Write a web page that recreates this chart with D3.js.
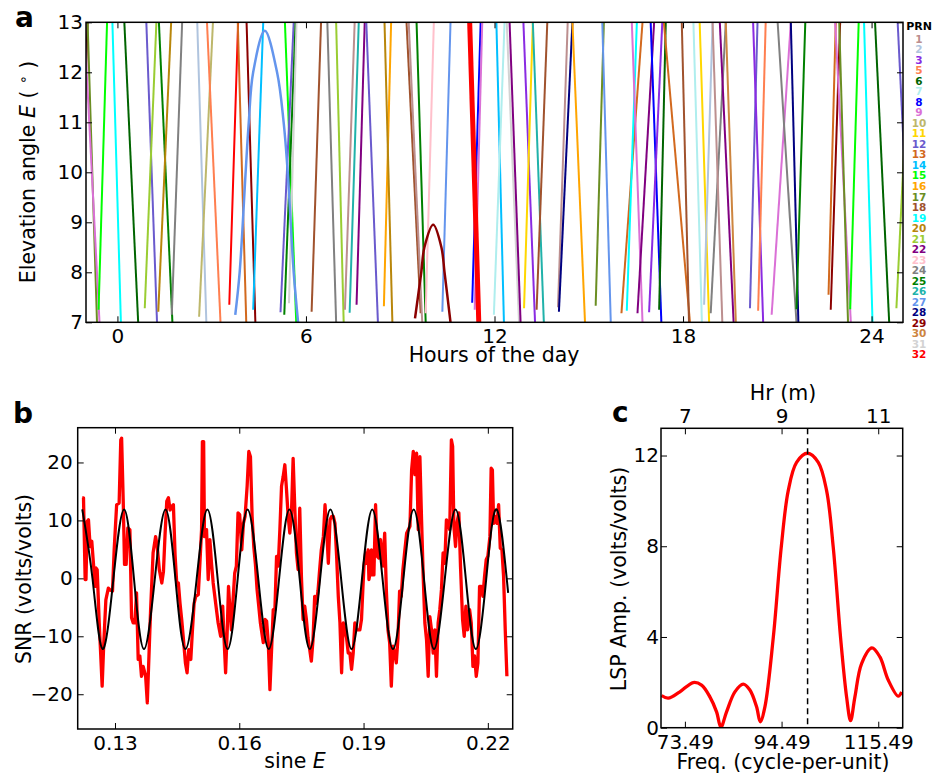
<!DOCTYPE html>
<html>
<head>
<meta charset="utf-8">
<script src="https://cdnjs.cloudflare.com/ajax/libs/d3/7.8.5/d3.min.js"></script>
<style>
  body { margin: 0; background: #fff; }
  svg { font-family: "DejaVu Sans", sans-serif; }
</style>
</head>
<body>
<script>
// ---------- data ----------
// satellite PRNs shown in the legend, and their colours
var prnList = [1, 2, 3, 5, 6, 7, 8, 9, 10, 11, 12, 13, 14, 15, 16, 17, 18, 19, 20, 21, 22, 23, 24, 25, 26, 27, 28, 29, 30, 31, 32];
var prnColors = ["#bc8f8f", "#b0c4de", "#8a2be2", "#ff7f50", "#006400", "#afeeee", "#0000ff", "#da70d6",
  "#bdb76b", "#ffd700", "#6a5acd", "#d2691e", "#00bfff", "#00ff00", "#ffa500", "#6b8e23", "#a0522d",
  "#00ffff", "#b8860b", "#9acd32", "#800080", "#ffc0cb", "#808080", "#008000", "#20b2aa", "#6495ed",
  "#000080", "#8b0000", "#cd853f", "#d3d3d3", "#ff0000"];

// rising / setting passes between 7 and 13 deg: [prn, hour0, elev0, hour1, elev1]
var tracks = [
  [29, -1.25, 7, -0.95, 13], [17, -0.95, 13, -0.65, 7], [9, -1.06, 13, -0.57, 7],
  [15, -0.60, 7.25, -0.33, 13], [19, -0.16, 13, 0.11, 7], [6, 0.22, 13, 0.66, 7],
  [12, 0.92, 13, 1.26, 7], [21, 0.87, 7.28, 1.24, 13], [25, 1.32, 13, 1.75, 7],
  [20, 1.30, 7.21, 1.71, 13], [24, 1.73, 7.15, 2.06, 13], [2, 2.54, 13, 2.83, 7],
  [10, 2.60, 7.11, 3.04, 13], [5, 2.85, 13, 3.28, 7], [32, 3.56, 7.35, 3.84, 13],
  [13, 3.83, 13, 4.10, 7], [29, 4.11, 13, 4.39, 7], [14, 4.32, 7.25, 4.64, 13],
  [15, 5.33, 13, 5.69, 7], [12, 5.19, 7.2, 5.61, 13], [25, 5.31, 7.15, 5.67, 13],
  [31, 5.46, 7.38, 5.70, 13], [18, 6.18, 7.21, 6.48, 13], [24, 6.68, 13, 6.96, 7],
  [21, 6.96, 13, 7.20, 7], [1, 7.24, 7.25, 7.55, 13], [26, 7.39, 7.19, 7.68, 13],
  [22, 7.61, 7.35, 7.87, 13], [12, 7.92, 13, 8.29, 7], [16, 8.48, 7.32, 8.71, 13],
  [20, 8.50, 13, 8.75, 7], [18, 9.20, 13, 9.65, 7.18], [1, 9.27, 13, 9.70, 7],
  [25, 9.52, 13, 9.81, 7], [23, 9.81, 7.18, 10.07, 13], [27, 10.34, 7.21, 10.60, 13],
  [8, 11.29, 7.39, 11.56, 13], [9, 11.37, 7.25, 11.61, 13], [14, 12.06, 13, 12.30, 7],
  [7, 11.98, 7.15, 12.32, 13], [31, 12.39, 13, 12.78, 7], [22, 12.48, 13, 12.83, 7],
  [3, 12.92, 13, 13.29, 7], [11, 12.94, 7.28, 13.22, 13], [26, 13.22, 13, 13.57, 7],
  [18, 13.34, 7.25, 13.68, 13], [1, 14.02, 7.3, 14.33, 13], [28, 14.05, 7.21, 14.48, 13],
  [16, 14.48, 13, 14.88, 7], [17, 15.22, 7.33, 15.48, 13], [27, 15.43, 13, 15.70, 7],
  [13, 16.04, 7.18, 16.71, 13], [19, 16.21, 7.23, 16.53, 13], [9, 16.37, 13, 16.71, 7],
  [22, 16.55, 7.18, 17.08, 13], [8, 16.97, 13, 17.31, 7], [3, 16.92, 7.2, 17.34, 13],
  [6, 17.24, 7.25, 17.45, 13], [13, 17.39, 13, 18.22, 7], [18, 17.96, 13, 18.19, 7],
  [7, 18.33, 13, 18.60, 7], [11, 18.53, 13, 18.83, 7], [2, 18.67, 7.35, 18.94, 13],
  [24, 18.88, 7.18, 19.36, 13], [1, 18.94, 13, 19.25, 7], [22, 19.17, 13, 19.61, 7],
  [30, 19.36, 13, 19.68, 7], [12, 20.13, 7.28, 20.37, 13], [3, 20.23, 13, 20.55, 7],
  [5, 20.39, 7.23, 20.63, 13], [9, 20.82, 7.15, 21.43, 13], [24, 21.01, 13, 21.61, 7],
  [28, 21.43, 13, 21.67, 7], [25, 21.61, 7.26, 21.89, 13], [13, 22.63, 7.55, 22.86, 13],
  [29, 22.70, 7.25, 23.00, 13], [9, 22.84, 13, 23.34, 7], [17, 22.97, 13, 23.25, 7],
  [15, 23.32, 7.26, 23.59, 13], [19, 23.76, 13, 24.03, 7], [6, 24.11, 13, 24.56, 7],
  [21, 24.79, 7.28, 25.23, 13], [12, 24.83, 13, 25.29, 7]
];

// passes that turn over inside the window
var arc27Hours = [3.75, 3.89, 4.08, 4.18, 4.32, 4.69, 5.08, 5.29, 5.42, 5.61, 5.75];
var arc27Elev = [7.15, 8, 10, 11, 12, 12.83, 12, 11, 10, 8, 7.0];
var arc29Hours = [9.47, 9.67, 9.77, 10.05, 10.31, 10.41, 10.60];
var arc29Elev = [7.08, 8, 8.5, 8.95, 8.5, 8, 7.0];

// the highlighted pass (PRN 32) analysed in b and c
var passHours = [11.21, 11.50];
var passElev = [13, 7];

var hourTicks = [0, 6, 12, 18, 24];
var elevTicks = [7, 8, 9, 10, 11, 12, 13];

// panel b: detrended SNR vs sine E, and the fitted sinusoid
var snrPoints = [
  [0.1221, 13.9], [0.1224, 13.9], [0.1228, -0.2], [0.1230, -0.2], [0.1233, 9.8], [0.1236, 10.1],
  [0.1240, 5.5], [0.1244, 6.4], [0.1248, 2.6], [0.1252, -1.4], [0.1254, 1.8], [0.1257, 1.5],
  [0.1262, -7.7], [0.1265, -12.3], [0.1269, -18.6], [0.1273, -11.1], [0.1278, -3.7], [0.1284, -1.7],
  [0.1288, -2.0], [0.1294, -2.2], [0.1298, 4.9], [0.1304, 12.7], [0.1310, 13.0], [0.1314, 23.9],
  [0.1316, 24.2], [0.1320, 13.0], [0.1323, 2.4], [0.1327, 2.4], [0.1331, 8.7], [0.1336, 8.4],
  [0.1340, -6.8], [0.1344, -7.7], [0.1348, -7.7], [0.1352, -2.5], [0.1356, -14.0], [0.1360, -13.4],
  [0.1364, -16.9], [0.1368, -15.2], [0.1374, -16.9], [0.1378, -21.5], [0.1382, -13.4], [0.1386, -5.4],
  [0.1392, 4.4], [0.1398, 7.2], [0.1402, 5.5], [0.1407, 1.5], [0.1413, -0.8], [0.1417, 1.2],
  [0.1421, 7.8], [0.1425, 13.3], [0.1429, 13.9], [0.1433, 11.8], [0.1437, 12.4], [0.1441, 12.7],
  [0.1445, 4.1], [0.1449, -0.8], [0.1453, -0.8], [0.1457, -4.3], [0.1461, -7.1], [0.1465, -10.3],
  [0.1470, -14.6], [0.1474, -16.3], [0.1478, -12.3], [0.1483, -14.0], [0.1487, -8.9], [0.1491, -4.3],
  [0.1495, -3.1], [0.1501, -2.8], [0.1505, 2.6], [0.1509, 8.4], [0.1511, 23.6], [0.1514, 23.6],
  [0.1516, 7.2], [0.1521, 8.4], [0.1525, -0.2], [0.1529, 6.7], [0.1533, 2.6], [0.1537, -0.8],
  [0.1543, -4.3], [0.1549, -7.7], [0.1555, -10.0], [0.1560, -4.8], [0.1563, -10.0], [0.1567, -16.3],
  [0.1571, -8.9], [0.1574, -1.4], [0.1577, -4.8], [0.1581, -8.9], [0.1585, -3.7], [0.1589, 0.9],
  [0.1593, 2.1], [0.1597, 11.3], [0.1601, 11.0], [0.1606, 4.9], [0.1610, 9.5], [0.1614, 10.7],
  [0.1619, 15.9], [0.1623, 21.9], [0.1627, 21.0], [0.1631, 10.7], [0.1635, 5.5], [0.1639, 2.4],
  [0.1643, -2.0], [0.1647, -4.8], [0.1651, -7.7], [0.1658, -11.1], [0.1662, -7.1], [0.1666, -7.4],
  [0.1670, -11.1], [0.1674, -19.2], [0.1678, -12.3], [0.1682, -5.4], [0.1686, -5.4], [0.1690, 3.8],
  [0.1694, 2.1], [0.1698, 8.4], [0.1702, 15.9], [0.1706, 17.6], [0.1710, 19.6], [0.1714, 15.3],
  [0.1718, 10.7], [0.1722, 7.8], [0.1726, 11.3], [0.1730, 20.7], [0.1734, 12.1], [0.1738, 4.4],
  [0.1742, 1.5], [0.1746, 12.1], [0.1750, 0.3], [0.1754, -7.1], [0.1758, -4.8], [0.1762, -7.1],
  [0.1766, -10.3], [0.1770, -12.3], [0.1774, -14.3], [0.1778, -10.6], [0.1782, -3.1], [0.1786, -4.3],
  [0.1790, -2.2], [0.1794, 1.5], [0.1798, 4.9], [0.1803, 7.2], [0.1807, 12.7], [0.1811, 8.4],
  [0.1815, 2.6], [0.1819, 10.1], [0.1823, 10.7], [0.1827, 10.7], [0.1831, 9.5], [0.1835, 3.8],
  [0.1839, -3.1], [0.1843, -7.7], [0.1847, -16.3], [0.1851, -7.7], [0.1855, -8.9], [0.1859, -10.3],
  [0.1863, -12.9], [0.1867, -12.9], [0.1871, -15.7], [0.1875, -12.9], [0.1879, -7.7], [0.1883, -8.9],
  [0.1887, -8.9], [0.1891, -8.9], [0.1895, -7.1], [0.1899, -0.8], [0.1901, 2.1], [0.1905, 4.4],
  [0.1907, 2.6], [0.1911, 4.9], [0.1913, -0.2], [0.1917, 1.5], [0.1919, 4.9], [0.1921, 0.6],
  [0.1925, 0.6], [0.1929, 12.7], [0.1933, 3.8], [0.1937, 3.5], [0.1941, 6.7], [0.1945, 3.5],
  [0.1947, 2.1], [0.1951, 7.8], [0.1955, -2.0], [0.1959, -8.9], [0.1963, -11.1], [0.1967, -18.6],
  [0.1971, -11.7], [0.1975, -12.9], [0.1979, -14.6], [0.1983, -10.3], [0.1987, -2.2], [0.1991, -3.1],
  [0.1995, 1.5], [0.1999, 4.4], [0.2004, 7.8], [0.2008, 8.4], [0.2012, 9.0], [0.2016, 18.7],
  [0.2020, 21.9], [0.2024, 17.9], [0.2028, 21.6], [0.2032, 8.4], [0.2036, 21.0], [0.2040, 10.1],
  [0.2044, 0.3], [0.2048, -7.7], [0.2052, -10.6], [0.2056, -16.9], [0.2060, -6.6], [0.2064, -8.9],
  [0.2068, -12.9], [0.2072, -8.9], [0.2076, -16.9], [0.2080, -7.7], [0.2084, -5.4], [0.2088, -2.0],
  [0.2092, 4.4], [0.2096, 2.6], [0.2100, 10.1], [0.2104, 9.5], [0.2108, 8.4], [0.2112, 23.9],
  [0.2115, 22.8], [0.2118, 9.0], [0.2122, 5.5], [0.2126, 9.8], [0.2130, 11.3], [0.2134, 2.1],
  [0.2139, -7.1], [0.2143, -10.0], [0.2147, -4.8], [0.2151, -8.9], [0.2156, -5.4], [0.2160, -7.7],
  [0.2164, -15.2], [0.2168, -13.4], [0.2172, -16.9], [0.2176, -14.6], [0.2180, -1.4], [0.2184, -1.4],
  [0.2188, -3.1], [0.2192, 0.3], [0.2196, 3.2], [0.2200, 3.8], [0.2205, 7.2], [0.2208, 19.0],
  [0.2211, 18.7], [0.2214, 9.5], [0.2218, 10.7], [0.2222, 9.5], [0.2226, 12.7], [0.2230, 5.2],
  [0.2234, 4.9], [0.2238, 0.3], [0.2242, -8.9], [0.2246, -16.9]
];

// fitted sinusoid: crests, troughs and crossings
var fitPoints = [
  [0.1221, 11.9], [0.1246, -0.2], [0.1270, -12.2], [0.1296, -0.2], [0.1322, 11.9], [0.1346, -0.2],
  [0.1370, -12.2], [0.1396, -0.2], [0.1422, 11.9], [0.1446, -0.2], [0.1470, -12.2], [0.1497, -0.2],
  [0.1523, 11.9], [0.1548, -0.2], [0.1572, -12.2], [0.1596, -0.2], [0.1620, 11.9], [0.1646, -0.2],
  [0.1671, -12.2], [0.1696, -0.2], [0.1721, 11.9], [0.1746, -0.2], [0.1770, -12.2], [0.1795, -0.2],
  [0.1820, 11.9], [0.1846, -0.2], [0.1871, -12.2], [0.1896, -0.2], [0.1921, 11.9], [0.1946, -0.2],
  [0.1971, -12.2], [0.1996, -0.2], [0.2021, 11.9], [0.2046, -0.2], [0.2070, -12.2], [0.2096, -0.2],
  [0.2122, 11.9], [0.2147, -0.2], [0.2171, -12.2], [0.2196, -0.2], [0.2221, 11.9], [0.2249, -2.5]
];

var sineTicks = [0.13, 0.16, 0.19, 0.22];
var snrTicks = [-20, -10, 0, 10, 20];

// panel c: Lomb-Scargle periodogram
var lspFreq = [68.42, 69.87, 72.40, 75.30, 77.11, 78.92, 80.37, 81.31, 82.54, 84.35, 86.16, 87.61,
  89.06, 89.86, 90.87, 92.68, 94.42, 95.94, 97.75, 100.14, 102.46, 104.27, 105.71, 107.31,
  108.61, 109.48, 110.42, 111.87, 114.11, 115.85, 117.66, 119.83, 120.56];
var lspAmp = [1.42, 1.30, 1.58, 1.99, 1.88, 1.36, 0.70, 0.03, 0.70, 1.58, 1.92, 1.66,
  0.92, 0.26, 0.92, 3.96, 7.96, 10.45, 11.70, 12.10, 11.70, 10.45, 7.96, 3.96,
  1.36, 0.31, 1.36, 2.83, 3.52, 3.12, 2.10, 1.39, 1.58];
var peakFreq = 100.14;
var freqTicks = [73.49, 94.49, 115.49];
var ampTicks = [0, 4, 8, 12];
var hrTicks = [7, 9, 11];
var halfWavelength = 0.09525; // m, converts cycles-per-unit to reflector height

// ---------- setup ----------
var svgWidth = 943;
var svgHeight = 776;
var tickFont = 20;
var labelFont = 20.5;

var svg = d3.select("body")
  .append("svg")
  .attr("width", svgWidth)
  .attr("height", svgHeight);

// style an axis group the way matplotlib does: inward ticks, no domain line
function styleAxis(g) {
  g.select(".domain").remove();
  g.attr("font-size", tickFont).attr("font-family", "DejaVu Sans");
  g.selectAll(".tick line").attr("stroke", "#000").attr("stroke-width", 1);
  g.selectAll(".tick text").attr("fill", "#000");
}

function frame(g, w, h) {
  g.append("rect")
    .attr("width", w)
    .attr("height", h)
    .attr("fill", "none")
    .attr("stroke", "#000")
    .attr("stroke-width", 1.5);
}

var colorOf = d3.scaleOrdinal().domain(prnList).range(prnColors);
var intFormat = d3.format("d");

// ---------- panel a ----------
var aW = 817, aH = 300;
var gA = svg.append("g").attr("transform", "translate(86, 22.3)");

var xA = d3.scaleLinear().domain([-1, 25]).range([0, aW]);
var yA = d3.scaleLinear().domain([7, 13]).range([aH, 0]);

gA.append("clipPath").attr("id", "clipA")
  .append("rect").attr("width", aW).attr("height", aH);

var plotA = gA.append("g").attr("clip-path", "url(#clipA)");

var lineA = d3.line()
  .x(d => xA(d[0]))
  .y(d => yA(d[1]));

plotA.selectAll("path.track")
  .data(tracks)
  .enter()
  .append("path")
  .attr("class", "track")
  .attr("d", d => lineA([[d[1], d[2]], [d[3], d[4]]]))
  .attr("fill", "none")
  .attr("stroke", d => colorOf(d[0]))
  .attr("stroke-width", 2);

var arcLine = d3.line()
  .x(d => xA(d[0]))
  .y(d => yA(d[1]))
  .curve(d3.curveCatmullRom);

plotA.append("path")
  .attr("d", arcLine(d3.zip(arc27Hours, arc27Elev)))
  .attr("fill", "none")
  .attr("stroke", colorOf(27))
  .attr("stroke-width", 2.5);

plotA.append("path")
  .attr("d", arcLine(d3.zip(arc29Hours, arc29Elev)))
  .attr("fill", "none")
  .attr("stroke", colorOf(29))
  .attr("stroke-width", 2.5);

plotA.append("path")
  .attr("d", lineA(d3.zip(passHours, passElev)))
  .attr("fill", "none")
  .attr("stroke", colorOf(32))
  .attr("stroke-width", 5);

// axes
gA.append("g")
  .attr("transform", `translate(0, ${aH})`)
  .call(d3.axisBottom(xA).tickValues(hourTicks).tickSizeInner(-6).tickSizeOuter(0).tickPadding(7))
  .call(styleAxis);
gA.append("g")
  .call(d3.axisTop(xA).tickValues(hourTicks).tickSizeInner(-6).tickSizeOuter(0).tickFormat(""))
  .call(styleAxis);
gA.append("g")
  .call(d3.axisLeft(yA).tickValues(elevTicks).tickFormat(intFormat).tickSizeInner(-6).tickSizeOuter(0).tickPadding(3))
  .call(styleAxis);
gA.append("g")
  .attr("transform", `translate(${aW}, 0)`)
  .call(d3.axisRight(yA).tickValues(elevTicks).tickSizeInner(-6).tickSizeOuter(0).tickFormat(""))
  .call(styleAxis);
frame(gA, aW, aH);

svg.append("text")
  .attr("x", 494)
  .attr("y", 362)
  .attr("text-anchor", "middle")
  .attr("font-size", labelFont)
  .text("Hours of the day");

var yLabelA = svg.append("text")
  .attr("transform", "translate(35, 172) rotate(-90)")
  .attr("text-anchor", "middle")
  .attr("font-size", labelFont);
yLabelA.append("tspan").text("Elevation angle ");
yLabelA.append("tspan").attr("font-style", "italic").text("E");
yLabelA.append("tspan").text(" ( ");
yLabelA.append("tspan").attr("font-size", 14).attr("dy", -7).text("\u2218");
yLabelA.append("tspan").attr("dy", 7).text(" )");

// PRN legend
var legend = svg.append("g").attr("font-weight", "bold").attr("text-anchor", "middle");
legend.append("text")
  .attr("x", 919)
  .attr("y", 30)
  .attr("font-size", 11)
  .text("PRN");
legend.selectAll("text.prn")
  .data(prnList)
  .enter()
  .append("text")
  .attr("class", "prn")
  .attr("x", 919)
  .attr("y", (d, i) => 42.7 + i * 10.52)
  .attr("font-size", 10.5)
  .attr("fill", d => colorOf(d))
  .text(d => d);

svg.append("text")
  .attr("x", 15)
  .attr("y", 27)
  .attr("font-size", 28)
  .attr("font-weight", "bold")
  .text("a");

// ---------- panel b ----------
var bW = 435, bH = 301.3;
var gB = svg.append("g").attr("transform", "translate(77.7, 427.7)");

var xB = d3.scaleLinear().domain([0.121, 0.226]).range([0, bW]);
var yB = d3.scaleLinear().domain([-26, 26]).range([bH, 0]);

gB.append("clipPath").attr("id", "clipB")
  .append("rect").attr("width", bW).attr("height", bH);
var plotB = gB.append("g").attr("clip-path", "url(#clipB)");

plotB.append("path")
  .datum(snrPoints)
  .attr("d", d3.line().x(d => xB(d[0])).y(d => yB(d[1])))
  .attr("fill", "none")
  .attr("stroke", "#ff0000")
  .attr("stroke-width", 3.3)
  .attr("stroke-linejoin", "round");

plotB.append("path")
  .datum(fitPoints)
  .attr("d", d3.line().x(d => xB(d[0])).y(d => yB(d[1])).curve(d3.curveNatural))
  .attr("fill", "none")
  .attr("stroke", "#000")
  .attr("stroke-width", 2);

gB.append("g")
  .attr("transform", `translate(0, ${bH})`)
  .call(d3.axisBottom(xB).tickValues(sineTicks).tickFormat(d3.format(".2f")).tickSizeInner(-6).tickSizeOuter(0).tickPadding(7))
  .call(styleAxis);
gB.append("g")
  .call(d3.axisTop(xB).tickValues(sineTicks).tickSizeInner(-6).tickSizeOuter(0).tickFormat(""))
  .call(styleAxis);
gB.append("g")
  .call(d3.axisLeft(yB).tickValues(snrTicks).tickFormat(intFormat).tickSizeInner(-6).tickSizeOuter(0).tickPadding(5))
  .call(styleAxis);
gB.append("g")
  .attr("transform", `translate(${bW}, 0)`)
  .call(d3.axisRight(yB).tickValues(snrTicks).tickSizeInner(-6).tickSizeOuter(0).tickFormat(""))
  .call(styleAxis);
frame(gB, bW, bH);

var xLabelB = svg.append("text")
  .attr("x", 295)
  .attr("y", 768)
  .attr("text-anchor", "middle")
  .attr("font-size", labelFont);
xLabelB.append("tspan").text("sine ");
xLabelB.append("tspan").attr("font-style", "italic").text("E");

svg.append("text")
  .attr("transform", "translate(31, 579) rotate(-90)")
  .attr("text-anchor", "middle")
  .attr("font-size", labelFont)
  .text("SNR (volts/volts)");

svg.append("text")
  .attr("x", 13)
  .attr("y", 423)
  .attr("font-size", 28)
  .attr("font-weight", "bold")
  .text("b");

// ---------- panel c ----------
var cW = 241.7, cH = 299.4;
var gC = svg.append("g").attr("transform", "translate(661, 428.3)");

var xC = d3.scaleLinear().domain([68.3, 120.8]).range([0, cW]);
var yC = d3.scaleLinear().domain([0, 13.2]).range([cH, 0]);
var hrScale = d3.scaleLinear()
  .domain([68.3 * halfWavelength, 120.8 * halfWavelength])
  .range([0, cW]);

gC.append("clipPath").attr("id", "clipC")
  .append("rect").attr("width", cW).attr("height", cH);
var plotC = gC.append("g").attr("clip-path", "url(#clipC)");

plotC.append("path")
  .datum(d3.zip(lspFreq, lspAmp))
  .attr("d", d3.line().x(d => xC(d[0])).y(d => yC(d[1])).curve(d3.curveCatmullRom))
  .attr("fill", "none")
  .attr("stroke", "#ff0000")
  .attr("stroke-width", 3.3);

plotC.append("line")
  .attr("x1", xC(peakFreq))
  .attr("x2", xC(peakFreq))
  .attr("y1", 0)
  .attr("y2", cH)
  .attr("stroke", "#000")
  .attr("stroke-width", 1.5)
  .attr("stroke-dasharray", "6,4");

gC.append("g")
  .attr("transform", `translate(0, ${cH})`)
  .call(d3.axisBottom(xC).tickValues(freqTicks).tickFormat(d3.format(".2f")).tickSizeInner(-6).tickSizeOuter(0).tickPadding(7))
  .call(styleAxis);
gC.append("g")
  .call(d3.axisTop(hrScale).tickValues(hrTicks).tickFormat(intFormat).tickSizeInner(-6).tickSizeOuter(0).tickPadding(5))
  .call(styleAxis);
gC.append("g")
  .call(d3.axisLeft(yC).tickValues(ampTicks).tickFormat(intFormat).tickSizeInner(-6).tickSizeOuter(0).tickPadding(2))
  .call(styleAxis);
gC.append("g")
  .attr("transform", `translate(${cW}, 0)`)
  .call(d3.axisRight(yC).tickValues(ampTicks).tickSizeInner(-6).tickSizeOuter(0).tickFormat(""))
  .call(styleAxis);
frame(gC, cW, cH);

svg.append("text")
  .attr("x", 783)
  .attr("y", 400)
  .attr("text-anchor", "middle")
  .attr("font-size", labelFont)
  .text("Hr (m)");

svg.append("text")
  .attr("x", 783)
  .attr("y", 769)
  .attr("text-anchor", "middle")
  .attr("font-size", labelFont)
  .text("Freq. (cycle-per-unit)");

svg.append("text")
  .attr("transform", "translate(626, 579) rotate(-90)")
  .attr("text-anchor", "middle")
  .attr("font-size", labelFont)
  .text("LSP Amp. (volts/volts)");

svg.append("text")
  .attr("x", 612)
  .attr("y", 422)
  .attr("font-size", 28)
  .attr("font-weight", "bold")
  .text("c");
</script>
</body>
</html>
